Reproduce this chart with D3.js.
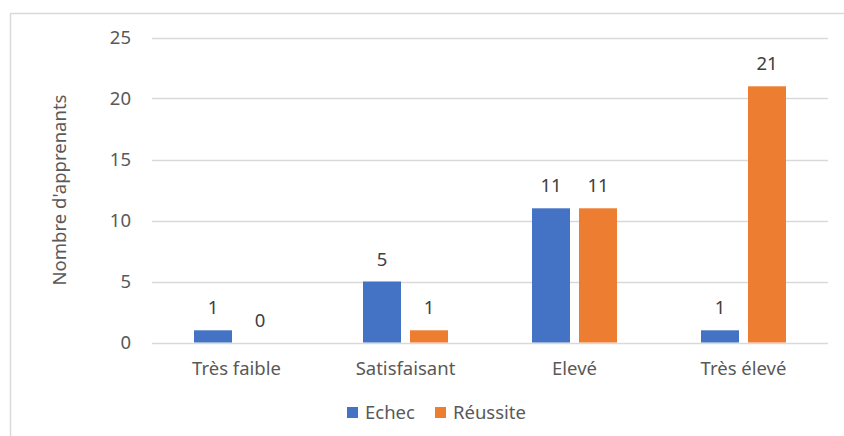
<!DOCTYPE html>
<html>
<head>
<meta charset="utf-8">
<script src="https://cdn.jsdelivr.net/npm/d3@7"></script>
<style>
  body { margin: 0; background: #fff; }
  text { font-family: "Noto Sans", sans-serif; }
</style>
</head>
<body>
<div id="chart"></div>
<script>
var categories = ["Très faible", "Satisfaisant", "Elevé", "Très élevé"];
var seriesNames = ["Echec", "Réussite"];
var echec = [1, 5, 11, 1];
var reussite = [0, 1, 11, 21];
var yTicks = [0, 5, 10, 15, 20, 25];
var colors = ["#4472C4", "#ED7D31"];

var width = 844, height = 436;
var plotLeft = 152, plotRight = 828, plotTop = 37.5, plotBottom = 342.5;
var fontSize = "18.5px";

var svg = d3.select("#chart").append("svg")
  .attr("width", width)
  .attr("height", height);

// chart border (cut off on right and bottom)
svg.append("rect")
  .attr("x", 10.5).attr("y", 13.5)
  .attr("width", 900).attr("height", 500)
  .attr("fill", "none")
  .attr("stroke", "#d9d9d9")
  .attr("stroke-width", 1.5);

var rows = categories.map(function(c, i) {
  return {cat: c, vals: [echec[i], reussite[i]]};
});

var x0 = d3.scaleBand()
  .domain(categories)
  .range([plotLeft, plotRight])
  .paddingInner(0.497)
  .paddingOuter(0.2485);

var x1 = d3.scaleBand()
  .domain([0, 1])
  .range([0, x0.bandwidth()])
  .paddingInner(0.1915);

var y = d3.scaleLinear()
  .domain([0, 25])
  .range([plotBottom, plotTop]);

// gridlines
svg.append("g")
  .selectAll("line")
  .data(yTicks)
  .enter().append("line")
  .attr("x1", plotLeft).attr("x2", plotRight)
  .attr("y1", function(d) { return Math.round(y(d)) + 0.5; })
  .attr("y2", function(d) { return Math.round(y(d)) + 0.5; })
  .attr("stroke", "#d9d9d9")
  .attr("stroke-width", 1.5);

var yAxis = d3.axisLeft(y).tickValues(yTicks).tickSize(0).tickPadding(0);
var gy = svg.append("g")
  .attr("transform", "translate(131,0)")
  .call(yAxis);
gy.select(".domain").remove();
gy.selectAll("text")
  .attr("fill", "#595959")
  .style("font-size", fontSize)
  .style("font-family", "Noto Sans");

var xAxis = d3.axisBottom(x0).tickSize(0).tickPadding(0);
var gx = svg.append("g")
  .attr("transform", "translate(0," + plotBottom + ")")
  .call(xAxis);
gx.select(".domain").remove();
gx.selectAll("text")
  .attr("dy", null)
  .attr("y", 32)
  .attr("fill", "#595959")
  .style("font-size", fontSize)
  .style("font-family", "Noto Sans");

// bars
var groups = svg.append("g")
  .selectAll("g")
  .data(rows)
  .enter().append("g")
  .attr("transform", function(d) { return "translate(" + x0(d.cat) + ",0)"; });

groups.selectAll("rect")
  .data(function(d) { return d.vals; })
  .enter().append("rect")
  .attr("x", function(d, i) { return x1(i); })
  .attr("y", function(d) { return y(d); })
  .attr("width", x1.bandwidth())
  .attr("height", function(d) { return y(0) - y(d); })
  .attr("fill", function(d, i) { return colors[i]; });

groups.selectAll("text")
  .data(function(d) { return d.vals; })
  .enter().append("text")
  .attr("x", function(d, i) { return x1(i) + x1.bandwidth() / 2; })
  .attr("y", function(d) { return y(d) - 16; })
  .attr("text-anchor", "middle")
  .attr("fill", "#404040")
  .style("font-size", fontSize)
  .text(function(d) { return d; });

// y label
svg.append("text")
  .attr("transform", "translate(66," + (plotTop + plotBottom) / 2 + ") rotate(-90)")
  .attr("text-anchor", "middle")
  .attr("fill", "#595959")
  .style("font-size", fontSize)
  .text("Nombre d'apprenants");

// legend
var legendX = [347, 435];
var legend = svg.append("g")
  .selectAll("g")
  .data(seriesNames)
  .enter().append("g")
  .attr("transform", function(d, i) { return "translate(" + legendX[i] + ",407)"; });
legend.append("rect")
  .attr("width", 11).attr("height", 11)
  .attr("fill", function(d, i) { return colors[i]; });
legend.append("text")
  .attr("x", 18).attr("y", 12)
  .attr("fill", "#595959")
  .style("font-size", fontSize)
  .text(function(d) { return d; });
</script>
</body>
</html>
